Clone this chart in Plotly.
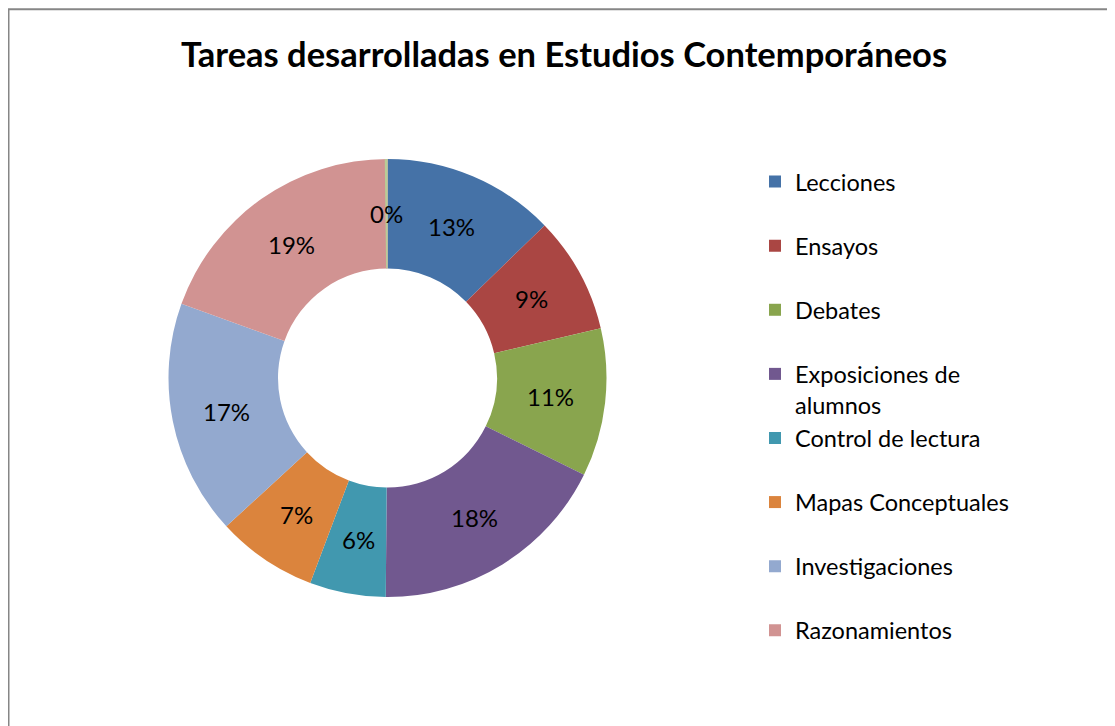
import math
import plotly.graph_objects as go

categories = ["Lecciones", "Ensayos", "Debates", "Exposiciones de alumnos",
              "Control de lectura", "Mapas Conceptuales", "Investigaciones", "Razonamientos"]
values = [12.7, 8.6, 10.9, 17.8, 5.6, 7.4, 17.3, 19.45]
colors = ["#4572A7", "#AA4643", "#89A54E", "#71588F",
          "#4198AF", "#DB843D", "#93A9CF", "#D19392"]

# tiny extra slice shown as "0%" (not listed in the legend)
extra_value = 0.2
extra_color = "#B9CD96"

W, H = 1115, 726
FONT = "Lato"
LEG_SIZE = 23.5
LABEL_SIZE = 24
HOLE = 0.5

def legend_label(name):
    if name == "Exposiciones de alumnos":
        return "Exposiciones de<br>alumnos"
    return name + "<br> "

labels = [legend_label(c) for c in categories]

# pie placement (figure pixels -> paper fractions)
cx_px, cy_px, R_px = 379.5, 370.0, 219.0
dom_x = [(cx_px - R_px) / W, (cx_px + R_px) / W]
dom_y = [1 - (cy_px + R_px) / H, 1 - (cy_px - R_px) / H]

fig = go.Figure()
fig.add_trace(go.Pie(
    labels=labels, values=values, sort=False, direction="clockwise", rotation=0,
    hole=HOLE, domain=dict(x=dom_x, y=dom_y),
    marker=dict(colors=colors, line=dict(width=0)),
    textinfo="none", hovertext=categories, hoverinfo="text+percent",
))
fig.add_trace(go.Pie(
    labels=["resto", "otros"], values=[sum(values), extra_value],
    sort=False, direction="clockwise", rotation=0,
    hole=HOLE, domain=dict(x=dom_x, y=dom_y),
    marker=dict(colors=["rgba(0,0,0,0)", extra_color], line=dict(width=0)),
    textinfo="none", showlegend=False, hoverinfo="skip",
))

# percentage labels at the middle of the ring, mid-angle of each slice
all_vals = values + [extra_value]
total = sum(all_vals)
r_mid = R_px * (1 + HOLE) / 2
annotations = []
cum = 0.0
for v in all_vals:
    theta = 2 * math.pi * (cum + v / 2) / total
    cum += v
    x = (cx_px + r_mid * math.sin(theta)) / W
    y = 1 - (cy_px - r_mid * math.cos(theta)) / H
    annotations.append(dict(
        x=x, y=y, xref="paper", yref="paper", showarrow=False,
        text=f"{round(100 * v / total)}%", xanchor="center", yanchor="middle",
        font=dict(family=FONT, size=LABEL_SIZE, color="black")))

fig.update_layout(
    width=W, height=H,
    margin=dict(l=0, r=0, t=0, b=0),
    paper_bgcolor="white", plot_bgcolor="white",
    font=dict(family=FONT, color="black"),
    title=dict(text="<b>Tareas desarrolladas en Estudios Contemporáneos</b>",
               x=556 / W, xanchor="center", y=1 - 47 / H, yanchor="middle",
               yref="container", font=dict(family=FONT, size=34.5, color="black")),
    legend=dict(x=747 / W, xanchor="left", y=1 - 151.8 / H, yanchor="top",
                valign="top", font=dict(family=FONT, size=LEG_SIZE, color="black"),
                bgcolor="rgba(0,0,0,0)"),
    annotations=annotations,
    shapes=[dict(type="rect", xref="paper", yref="paper",
                 x0=0.5 / W, x1=1.05, y0=-0.05, y1=1 - 1.2 / H,
                 line=dict(color="#868686", width=2), fillcolor="rgba(0,0,0,0)")],
)

fig.write_html("out.html")
